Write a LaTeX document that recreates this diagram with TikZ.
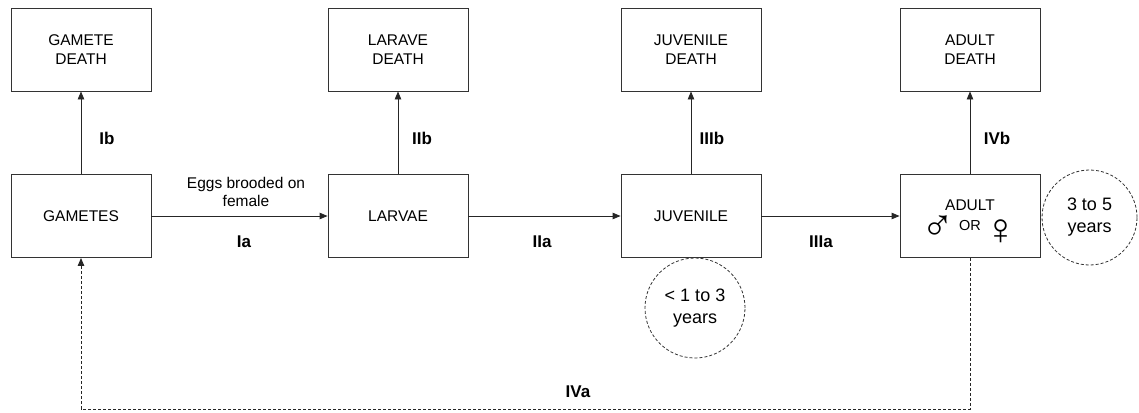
\documentclass[tikz,border=0pt]{standalone}
\usepackage{fontspec}
\setmainfont{Liberation Sans}
\usetikzlibrary{arrows.meta}

\begin{document}
\begin{tikzpicture}[x=1pt,y=-1pt,
  box/.style={draw=black!80, line width=0.9pt, minimum width=140pt, minimum height=83pt,
    inner sep=0pt, align=center, font=\fontsize{15.5}{18.5}\selectfont},
  flow/.style={draw=black!85, line width=0.9pt, -{Triangle[length=8pt,width=6.5pt]}},
  loopback/.style={flow, dash pattern=on 3pt off 2pt},
  stage/.style={font=\fontsize{17}{20}\selectfont\bfseries, inner sep=0pt},
  note/.style={font=\fontsize{15.5}{18}\selectfont, align=center, inner sep=0pt},
  span/.style={draw=black!80, dash pattern=on 3pt off 2pt, line width=0.8pt, circle,
    align=center, inner sep=0pt, font=\fontsize{18}{22}\selectfont},
  sex/.style={inner sep=0pt, font=\fontsize{44}{46}\selectfont},
  plain/.style={inner sep=0pt}]

\useasboundingbox (0,0) rectangle (1139,412);

% life stages
\node[box] (gametes)  at (81,216)  {GAMETES};
\node[box] (larvae)   at (398,216) {LARVAE};
\node[box] (juvenile) at (691,216) {JUVENILE};
\node[box] (adult)    at (970,216) {};
\node[plain, font=\fontsize{15.5}{18}\selectfont] (adultname) at (970,205.5) {ADULT};
\node[sex] (male)   at (938,228.5) {♂};
\node[plain, font=\fontsize{14.5}{16}\selectfont] (or)  at (970,226) {OR};
\node[sex] (female) at (1001,232) {♀};

% mortality
\node[box] (gdeath) at (81,49.5)  {GAMETE\\DEATH};
\node[box] (ldeath) at (398,49.5) {LARAVE\\DEATH};
\node[box] (jdeath) at (691,49.5) {JUVENILE\\DEATH};
\node[box] (adeath) at (970,49.5) {ADULT\\DEATH};

% stage durations
\node[span, minimum size=100pt] (jtime) at (695,308) {\textless{} 1 to 3\\years};
\node[span, minimum size=95pt]  (atime) at (1089.5,217.5) {3 to 5\\years};

% transitions
\draw[flow] (gametes) -- (larvae);
\draw[flow] (larvae) -- (juvenile);
\draw[flow] (juvenile) -- (adult);
\draw[flow] (gametes) -- (gdeath);
\draw[flow] (larvae) -- (ldeath);
\draw[flow] (juvenile) -- (jdeath);
\draw[flow] (adult) -- (adeath);

\coordinate (turn) at (970,409);
\draw[loopback] (adult.south) -- (turn) -| (gametes.south);

% labels
\node[note] (brood) at (246,192) {Eggs brooded on\\female};
\node[stage] (Ia)   at (244,242) {Ia};
\node[stage] (IIa)  at (542,242) {IIa};
\node[stage] (IIIa) at (821,242) {IIIa};
\node[stage] (IVa)  at (578,392) {IVa};
\node[stage] (Ib)   at (107,138) {Ib};
\node[stage] (IIb)  at (422,138) {IIb};
\node[stage] (IIIb) at (712,138) {IIIb};
\node[stage] (IVb)  at (997,138) {IVb};
\end{tikzpicture}
\end{document}
